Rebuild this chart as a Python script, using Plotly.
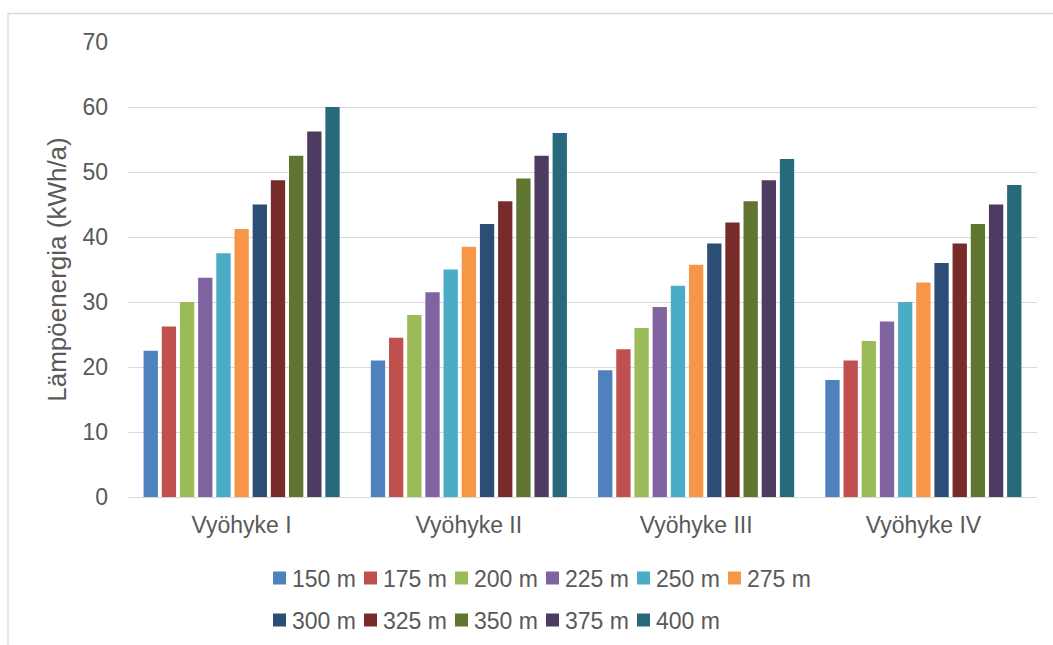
import plotly.graph_objects as go

# Zones on the x axis
zones = ["Vyöhyke I", "Vyöhyke II", "Vyöhyke III", "Vyöhyke IV"]

# One series per depth (kWh/a for each zone)
depths = ["150 m", "175 m", "200 m", "225 m", "250 m", "275 m",
          "300 m", "325 m", "350 m", "375 m", "400 m"]
d150 = [22.5, 21.0, 19.5, 18.0]
d175 = [26.25, 24.5, 22.75, 21.0]
d200 = [30.0, 28.0, 26.0, 24.0]
d225 = [33.75, 31.5, 29.25, 27.0]
d250 = [37.5, 35.0, 32.5, 30.0]
d275 = [41.25, 38.5, 35.75, 33.0]
d300 = [45.0, 42.0, 39.0, 36.0]
d325 = [48.75, 45.5, 42.25, 39.0]
d350 = [52.5, 49.0, 45.5, 42.0]
d375 = [56.25, 52.5, 48.75, 45.0]
d400 = [60.0, 56.0, 52.0, 48.0]
series = [d150, d175, d200, d225, d250, d275, d300, d325, d350, d375, d400]

y_ticks = [0, 10, 20, 30, 40, 50, 60, 70]

colors = ["#4F81BD", "#C0504D", "#9BBB59", "#8064A2", "#4BACC6", "#F79646",
          "#2C4D75", "#772C2A", "#5F7530", "#4D3B62", "#276A7C"]

W, H = 1053, 645
ML, MR, MT, MB = 128, 16, 42, 148
pw = W - ML - MR
ph = H - MT - MB


def px_x(x):
    return (x - ML) / pw


def px_y(y):
    return (H - MB - y) / ph


TXT = "#595959"
FONT = "Liberation Sans, Arial, sans-serif"

fig = go.Figure()
for name, vals, c in zip(depths, series, colors):
    fig.add_trace(go.Bar(
        x=zones, y=vals, name=name, showlegend=False,
        marker=dict(color=c, line=dict(width=0)),
    ))

# Legend below the plot: two rows (six + five entries), swatch then label
per_row = 6
col_step = 91
row_y = [578, 620]
sw = 13
shapes = [dict(
    type="rect", xref="paper", yref="paper",
    x0=px_x(8), x1=px_x(W + 20), y0=px_y(H + 20), y1=px_y(13.5),
    line=dict(color="#d9d9d9", width=1.3), fillcolor="rgba(0,0,0,0)",
    layer="below",
)]
annotations = []
for i, (name, c) in enumerate(zip(depths, colors)):
    cx = 273 + (i % per_row) * col_step
    cy = row_y[i // per_row]
    shapes.append(dict(
        type="rect", xref="paper", yref="paper",
        x0=px_x(cx), x1=px_x(cx + sw),
        y0=px_y(cy + sw / 2), y1=px_y(cy - sw / 2),
        line=dict(width=0), fillcolor=c,
    ))
    annotations.append(dict(
        text=name, xref="paper", yref="paper",
        x=px_x(cx + sw + 4), y=px_y(cy + 1),
        xanchor="left", yanchor="middle", showarrow=False,
        font=dict(family=FONT, size=23, color=TXT),
    ))

fig.update_layout(
    width=W, height=H,
    margin=dict(l=ML, r=MR, t=MT, b=MB, autoexpand=False),
    paper_bgcolor="white", plot_bgcolor="white",
    barmode="group", bargap=0.12, bargroupgap=0.213,
    font=dict(family=FONT, size=23, color=TXT),
    showlegend=False,
    xaxis=dict(
        showgrid=False, showline=True, linecolor="#d9d9d9", linewidth=1.3,
        ticks="", tickfont=dict(family=FONT, size=23, color=TXT),
        ticklabelstandoff=7,
    ),
    yaxis=dict(
        range=[0, 70], tickvals=y_ticks, showline=False, zeroline=False,
        showgrid=True, gridcolor="#d9d9d9", gridwidth=1.3,
        ticks="", tickfont=dict(family=FONT, size=23, color=TXT),
        ticklabelstandoff=19,
        title=dict(text="Lämpöenergia (kWh/a)", standoff=8,
                   font=dict(family=FONT, size=26, color=TXT)),
    ),
    shapes=shapes,
    annotations=annotations,
)

fig.write_html("out.html")
